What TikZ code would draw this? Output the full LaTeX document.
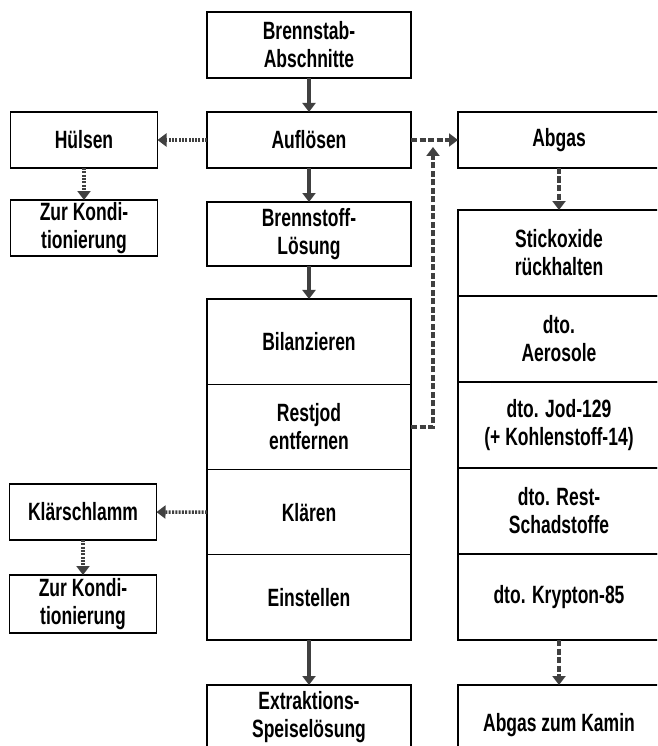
\documentclass[tikz,border=0pt]{standalone}
\usepackage{fontspec}
\setmainfont[FakeStretch=0.7]{Liberation Sans}
\usetikzlibrary{arrows.meta,positioning}

\tikzset{
  box/.style={draw, line width=1.2pt, outer sep=0pt, inner sep=0pt, align=center,
    font=\bfseries\fontsize{25}{28}\selectfont},
  mainbox/.style={box, minimum width=204pt},
  sidebox/.style={box, minimum width=147pt, minimum height=56pt},
  gasbox/.style={box, minimum width=202pt},
  flow/.style={line width=3.5pt, draw=black!75, -{Triangle[length=9pt,width=13pt]}},
  sideflow/.style={flow, dash pattern=on 2pt off 1.3pt},
  gasflow/.style={flow, dash pattern=on 6pt off 2.5pt}
}

\begin{document}
\begin{tikzpicture}[x=1pt,y=-1pt]
  \useasboundingbox (0,0) rectangle (657,746);
  \clip (0,0) rectangle (657,746);

  % main line
  \node[mainbox, minimum height=66pt] (brennstab) at (309,45) {Brennstab-\\Abschnitte};
  \node[mainbox, minimum height=56pt] (aufloesen) at (309,140) {Auflösen};
  \node[mainbox, minimum height=64pt] (brennstoff) at (309,234) {Brennstoff-\\Lösung};
  \node[mainbox, minimum height=85.25pt] (bilanz) at (309,341.6) {Bilanzieren};
  \node[mainbox, minimum height=85.25pt, below=0pt of bilanz] (restjod) {Restjod\\entfernen};
  \node[mainbox, minimum height=85.25pt, below=0pt of restjod] (klaeren) {Klären};
  \node[mainbox, minimum height=85.25pt, below=0pt of klaeren] (einstellen) {Einstellen};
  \node[mainbox, minimum height=64pt] (extraktion) at (309,717) {Extraktions-\\Speiselösung};

  % side products
  \node[sidebox] (huelsen) at (84,140) {Hülsen};
  \node[sidebox] (kond1) at (84,228) {Zur Kondi-\\tionierung};
  \node[sidebox] (schlamm) at (83,512) {Klärschlamm};
  \node[sidebox, minimum height=58pt] (kond2) at (83,604) {Zur Kondi-\\tionierung};

  % off-gas line
  \node[gasbox, minimum height=56pt] (abgas) at (559,140) {Abgas};
  \node[gasbox, minimum height=86pt] (stickoxide) at (559,253) {Stickoxide\\rückhalten};
  \node[gasbox, minimum height=86pt, below=0pt of stickoxide] (aerosole) {dto.\\Aerosole};
  \node[gasbox, minimum height=86pt, below=0pt of aerosole] (jod) {dto. Jod-129\\(+ Kohlenstoff-14)};
  \node[gasbox, minimum height=86pt, below=0pt of jod] (rest) {dto. Rest-\\Schadstoffe};
  \node[gasbox, minimum height=86pt, below=0pt of rest] (krypton) {dto. Krypton-85};
  \node[gasbox, minimum height=80pt] (kamin) at (559,725) {Abgas zum Kamin};

  \draw[flow] (brennstab) -- (aufloesen);
  \draw[flow] (aufloesen) -- (brennstoff);
  \draw[flow] (brennstoff) -- (bilanz);
  \draw[flow] (einstellen) -- (extraktion);

  \draw[sideflow] (aufloesen) -- (huelsen);
  \draw[sideflow] (huelsen) -- (kond1);
  \draw[sideflow] (klaeren.west) -- (schlamm);
  \draw[sideflow] (schlamm) -- (kond2);

  \coordinate (joint) at (433,147);
  \draw[gasflow] (aufloesen) -- (abgas);
  \draw[gasflow] (restjod.east) -| (joint);
  \draw[gasflow] (abgas) -- (stickoxide);
  \draw[gasflow] (krypton) -- (kamin);
\end{tikzpicture}
\end{document}
